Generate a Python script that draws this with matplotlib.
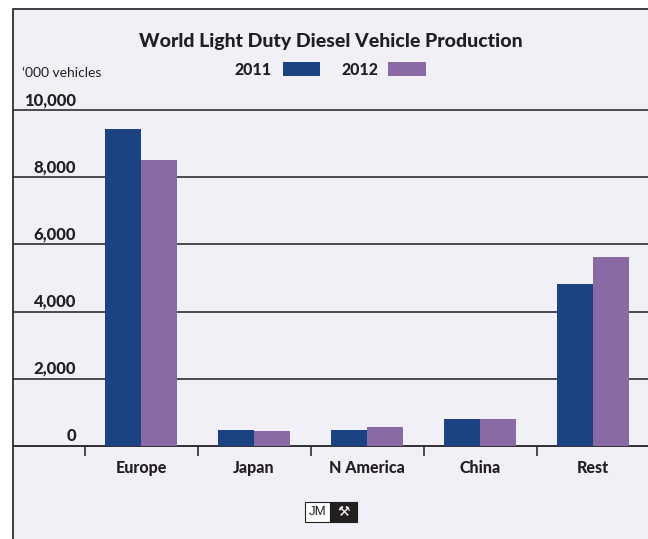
import matplotlib
matplotlib.use("Agg")
import matplotlib.pyplot as plt
from matplotlib.patches import Rectangle
import numpy as np

categories = ["Europe", "Japan", "N America", "China", "Rest"]
series_names = ["2011", "2012"]
values_2011 = [9430, 470, 470, 800, 4820]
values_2012 = [8510, 440, 560, 800, 5620]
ytick_values = [0, 2000, 4000, 6000, 8000, 10000]
ytick_labels = ["0", "2,000", "4,000", "6,000", "8,000", "10,000"]

C2011 = "#1b4282"
C2012 = "#8a6aa5"
BG = "#f1f0f7"
LINE = "#2e2e33"
TXT = "#231f20"

W, H = 648, 539
fig = plt.figure(figsize=(W / 100, H / 100), dpi=100)
fig.patch.set_facecolor("white")

def fx(px):
    return px / W

def fy(py):
    return 1 - py / H

# outer frame
frame = Rectangle((fx(12.5), fy(545)), 1.0, fy(8.5) - fy(545),
                  transform=fig.transFigure, facecolor=BG, edgecolor=LINE,
                  linewidth=1.3, zorder=-5)
fig.patches.append(frame)

# axes: left at frame, bottom at zero line (y=446), top at 10,000 line (y=110)
ax_left, ax_right = 13, 648
ax_top, ax_bot = 110, 446
ax = fig.add_axes([fx(ax_left), fy(ax_bot), fx(ax_right) - fx(ax_left), fy(ax_top) - fy(ax_bot)])
ax.set_facecolor("none")
ax.set_zorder(2)

spacing = 113.0
c0 = 141.0
ax.set_xlim((ax_left - c0) / spacing, (ax_right - c0) / spacing)
ax.set_ylim(0, 10000)

x = np.arange(len(categories))
bw = 0.315
ax.bar(x - bw / 2, values_2011, width=bw, color=C2011, zorder=3)
ax.bar(x + bw / 2, values_2012, width=bw, color=C2012, zorder=3)

# gridlines
for v in ytick_values:
    ax.axhline(v, color=LINE, lw=1.2 if v else 1.4, zorder=2, clip_on=False)

for s in ax.spines.values():
    s.set_visible(False)

FW = 900
# category labels
ax.set_xticks(x)
ax.set_xticklabels(categories, fontsize=11.5, fontweight=FW, color=TXT, family="Lato")
ax.tick_params(axis="x", which="major", length=0, pad=10)
ax.set_xticks(np.arange(-0.5, len(categories) - 0.5, 1.0), minor=True)
ax.tick_params(axis="x", which="minor", length=7.5, width=1.2, color=LINE, direction="out")
ax.set_yticks([])

# y tick labels, right-aligned at x=76 px, above lines
for v, lab in zip(ytick_values, ytick_labels):
    py = ax_bot - (ax_bot - ax_top) * v / 10000
    fig.text(fx(76), fy(py - 2), lab, ha="right", va="bottom", fontsize=12,
             fontweight=FW, color=TXT, family="Lato")

fig.text(fx(22), fy(73), "\u2018000 vehicles", ha="left", va="center", fontsize=10,
         color=TXT, family="Lato")

fig.text(fx(331), fy(41), "World Light Duty Diesel Vehicle Production", ha="center",
         va="center", fontsize=14, fontweight=FW, color=TXT, family="Lato")

# legend
fig.text(fx(272), fy(70), series_names[0], ha="right", va="center", fontsize=11.5,
         fontweight=FW, color=TXT, family="Lato")
fig.patches.append(Rectangle((fx(283), fy(76)), fx(320) - fx(283), fy(62) - fy(76),
                             transform=fig.transFigure, facecolor=C2011, edgecolor="none"))
fig.text(fx(378), fy(70), series_names[1], ha="right", va="center", fontsize=11.5,
         fontweight=FW, color=TXT, family="Lato")
fig.patches.append(Rectangle((fx(388), fy(76)), fx(426) - fx(388), fy(62) - fy(76),
                             transform=fig.transFigure, facecolor=C2012, edgecolor="none"))

# JM logo
fig.patches.append(Rectangle((fx(305), fy(522)), fx(330) - fx(305), fy(502) - fy(522),
                             transform=fig.transFigure, facecolor="white", edgecolor=TXT, lw=0.8))
fig.patches.append(Rectangle((fx(330), fy(522)), fx(357) - fx(330), fy(502) - fy(522),
                             transform=fig.transFigure, facecolor=TXT, edgecolor=TXT, lw=0.8))
fig.text(fx(317.5), fy(512), "JM", ha="center", va="center", fontsize=9.5, color=TXT,
         family="Liberation Sans")
fig.text(fx(343.5), fy(512), "\u2692", ha="center", va="center", fontsize=10, color="white",
         family="DejaVu Sans")

fig.savefig("out.png", dpi=100, facecolor="white")
